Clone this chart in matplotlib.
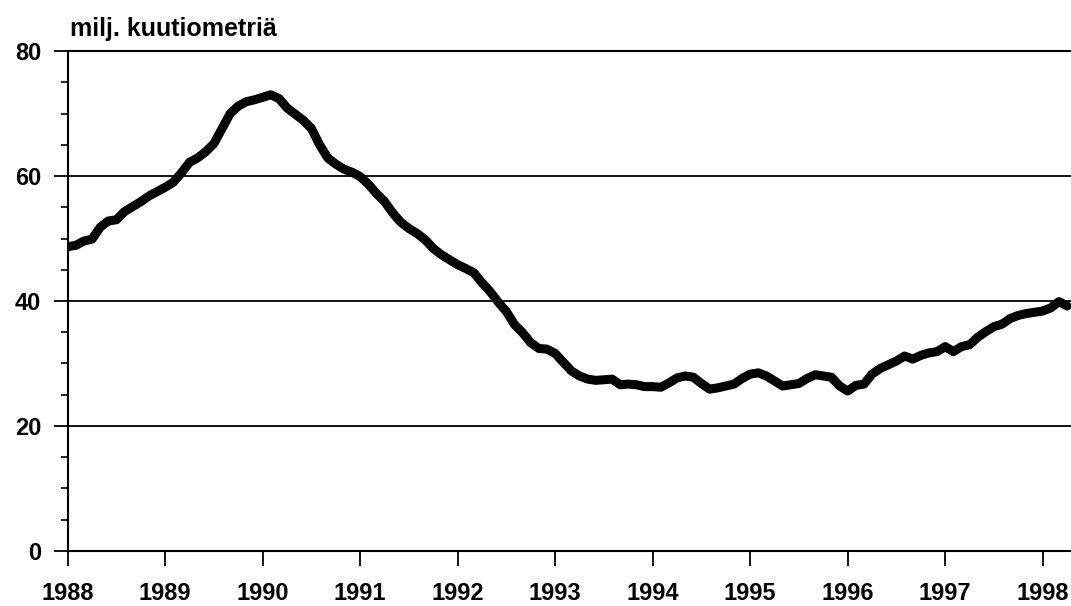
import numpy as np
import matplotlib.pyplot as plt
from matplotlib.ticker import MultipleLocator

# monthly series, Jan 1988 .. Apr 1998 (milj. kuutiometriä)
start_year = 1988
values = [
    48.7, 48.9, 49.6, 49.9, 51.8, 52.8, 53.0, 54.3, 55.1, 55.9, 56.8, 57.5,
    58.2, 59.0, 60.5, 62.2, 62.9, 63.9, 65.2, 67.6, 70.0, 71.2, 71.9, 72.2,
    72.6, 73.0, 72.4, 70.9, 69.9, 68.9, 67.6, 65.0, 62.9, 61.9, 61.1, 60.6,
    59.9, 58.7, 57.2, 55.9, 54.1, 52.6, 51.6, 50.8, 49.8, 48.4, 47.4, 46.6,
    45.8, 45.2, 44.5, 42.9, 41.5, 39.8, 38.3, 36.2, 34.9, 33.3, 32.4, 32.3,
    31.6, 30.2, 28.8, 28.0, 27.5, 27.3, 27.4, 27.5, 26.6, 26.7, 26.6, 26.3,
    26.3, 26.2, 26.9, 27.7, 28.0, 27.8, 26.8, 25.9, 26.1, 26.4, 26.7, 27.6,
    28.3, 28.5, 28.0, 27.2, 26.4, 26.6, 26.8, 27.6, 28.2, 28.0, 27.8, 26.4,
    25.6, 26.5, 26.7, 28.3, 29.2, 29.8, 30.4, 31.2, 30.7, 31.3, 31.7, 31.9,
    32.7, 31.9, 32.7, 33.0, 34.2, 35.1, 35.9, 36.3, 37.2, 37.7, 38.0, 38.2,
    38.4, 38.9, 39.9, 39.2,
]
years = list(range(1988, 1999))
y_ticks = [0, 20, 40, 60, 80]
unit_label = "milj. kuutiometriä"

x = start_year + np.arange(len(values)) / 12.0

font = ['Liberation Sans', 'DejaVu Sans']

fig = plt.figure(figsize=(10.71, 6.06), dpi=100)
ax = fig.add_axes([0.0632, 0.0908, 1 - 0.0632, 0.9158 - 0.0908])

ax.plot(x, values, color='black', linewidth=6.5, solid_joinstyle='round',
        solid_capstyle='round')

ax.set_xlim(1988, 1998.29)
ax.set_ylim(0, 80)
ax.set_xticks(years)
ax.set_xticklabels([str(y) for y in years])
ax.set_yticks(y_ticks)
ax.yaxis.set_minor_locator(MultipleLocator(5))

ax.grid(axis='y', color='black', linewidth=1.3)
ax.set_axisbelow(True)

ax.spines['right'].set_visible(False)
for s in ['left', 'bottom', 'top']:
    ax.spines[s].set_linewidth(1.5)

ax.tick_params(axis='y', which='major', direction='out', length=10, width=1.3, pad=9)
ax.tick_params(axis='y', which='minor', direction='out', length=5, width=1.2)
ax.tick_params(axis='x', which='major', direction='out', length=11, width=1.3, pad=11)

for lab in ax.get_xticklabels() + ax.get_yticklabels():
    lab.set_family(font)
    lab.set_fontweight('bold')
    lab.set_fontsize(17)

fig.text(70 / 1071, 1 - 36 / 606, unit_label, family=font, fontweight='bold',
         fontsize=18, ha='left', va='baseline')

fig.savefig('out.png', dpi=100)
